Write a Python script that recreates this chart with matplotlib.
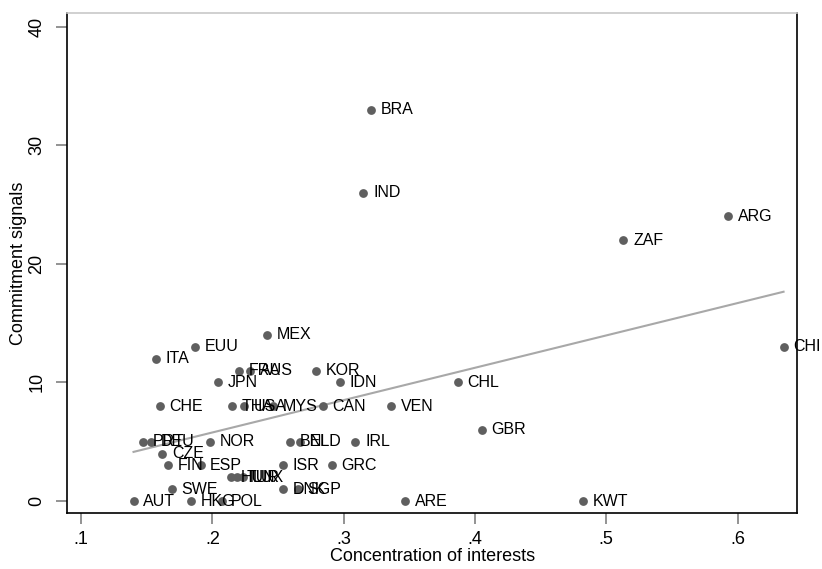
import matplotlib
matplotlib.use("Agg")
import matplotlib.pyplot as plt
import numpy as np

plt.rcParams['font.family'] = ['Liberation Sans', 'DejaVu Sans']

countries = ["BRA", "IND", "ARG", "ZAF", "CHI", "MEX", "EUU", "ITA", "FRA", "AUS",
             "KOR", "JPN", "IDN", "CHL", "CHE", "THA", "USA", "MYS", "CAN", "VEN",
             "GBR", "NOR", "PRT", "DEU", "CZE", "FIN", "ESP", "BEL", "NLD", "IRL",
             "ISR", "GRC", "HUN", "TUR", "LUX", "SWE", "AUT", "HKG", "POL", "DNK",
             "SGP", "ARE", "KWT"]
concentration = [0.321, 0.315, 0.593, 0.513, 0.635, 0.242, 0.187, 0.157, 0.220, 0.229,
                 0.279, 0.204, 0.297, 0.387, 0.160, 0.215, 0.224, 0.246, 0.284, 0.336,
                 0.405, 0.198, 0.147, 0.153, 0.162, 0.166, 0.191, 0.259, 0.267, 0.309,
                 0.254, 0.291, 0.214, 0.219, 0.223, 0.169, 0.140, 0.184, 0.207, 0.254,
                 0.265, 0.347, 0.482]
signals = [33, 26, 24, 22, 13, 14, 13, 12, 11, 11,
           11, 10, 10, 10, 8, 8, 8, 8, 8, 8,
           6, 5, 5, 5, 4, 3, 3, 5, 5, 5,
           3, 3, 2, 2, 2, 1, 0, 0, 0, 1,
           1, 0, 0]

xticks = [0.1, 0.2, 0.3, 0.4, 0.5, 0.6]
xticklabels = [".1", ".2", ".3", ".4", ".5", ".6"]
yticks = [0, 10, 20, 30, 40]

x = np.array(concentration)
y = np.array(signals, dtype=float)

fig = plt.figure(figsize=(8.22, 5.69), dpi=100)
ax = fig.add_axes([0.0821, 0.0984, 0.8871, 0.8788])

ax.scatter(x, y, s=40, color="#5f5f5f", zorder=3, linewidths=0)
for c, xi, yi in zip(countries, x, y):
    ax.annotate(c, (xi, yi), xytext=(7, 0), textcoords="offset points",
                ha="left", va="center", fontsize=11.5, color="black",
                annotation_clip=False, zorder=4)

slope, intercept = np.polyfit(x, y, 1)
xl = np.array([x.min(), x.max()])
ax.plot(xl, intercept + slope * xl, color="#a8a8a8", lw=1.5, zorder=2)

ax.set_xlim(0.0897, 0.645)
ax.set_ylim(-1.01, 41.15)
ax.set_xticks(xticks)
ax.set_xticklabels(xticklabels)
ax.set_yticks(yticks)
ax.set_yticklabels([str(v) for v in yticks], rotation=90, va="center")
ax.tick_params(axis="both", direction="out", length=8, width=1.2, color="#808080",
               labelsize=13)
ax.tick_params(axis="x", pad=5)
ax.tick_params(axis="y", pad=8)
for s in ax.spines.values():
    s.set_linewidth(1.2)
    s.set_color("black")
ax.spines["top"].set_color("#c8c8c8")

ax.set_xlabel("Concentration of interests", fontsize=13, labelpad=0)
ax.set_ylabel("Commitment signals", fontsize=13, labelpad=1)

fig.savefig("out.png", dpi=100)
